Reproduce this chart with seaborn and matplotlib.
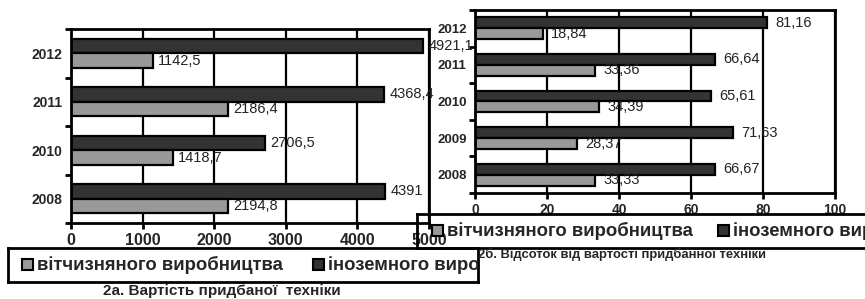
import numpy as np
import pandas as pd
import matplotlib
matplotlib.use('Agg')
import matplotlib.pyplot as plt
from matplotlib.patches import Rectangle
import seaborn as sns

# data, chart 2a (cost) and chart 2b (share, %)
years_a = ['2008', '2010', '2011', '2012']
domestic_a = [2194.8, 1418.7, 2186.4, 1142.5]
foreign_a = [4391, 2706.5, 4368.4, 4921.1]

years_b = ['2008', '2009', '2010', '2011', '2012']
domestic_b = [33.33, 28.37, 34.39, 33.36, 18.84]
foreign_b = [66.67, 71.63, 65.61, 66.64, 81.16]

lbl_dom = 'вітчизняного виробництва'
lbl_for = 'іноземного виробництва'
ticks_a = [0, 1000, 2000, 3000, 4000, 5000]
ticks_b = [0, 20, 40, 60, 80, 100]
title_a = '2а. Вартість придбаної  техніки'
title_b = '2б. Відсоток від вартості придбанної техніки'

sns.set_theme(style='white')
plt.rcParams['font.family'] = ['Liberation Sans', 'DejaVu Sans']

C_DOM = '#999999'
C_FOR = '#333333'
W, H = 865, 299


def px(x0, y0, x1, y1):
    # pixel box (top-left origin) -> figure fraction rect
    return [x0 / W, 1 - y1 / H, (x1 - x0) / W, (y1 - y0) / H]


def make_df(years, dom, forn):
    return pd.DataFrame({
        'year': years * 2,
        'value': list(dom) + list(forn),
        'type': [lbl_dom] * len(years) + [lbl_for] * len(years),
    })


def fmt(v):
    return f'{v:g}'.replace('.', ',')


def draw_bars(ax, df, years, xmax, ticks, xfs, yfs, lab_fs, pad):
    sns.barplot(data=df, y='year', x='value', hue='type', orient='h',
                order=years[::-1], hue_order=[lbl_for, lbl_dom],
                palette=[C_FOR, C_DOM], width=0.6, edgecolor='black',
                linewidth=1.6, saturation=1, legend=False, ax=ax)
    for c in ax.containers:
        ax.bar_label(c, labels=[fmt(v) for v in c.datavalues],
                     padding=pad, fontsize=lab_fs, color='#222222')
    ax.set_xlim(0, xmax)
    ax.set_ylim(len(years) - 0.5, -0.5)
    ax.set_xticks(ticks)
    ax.set_xticklabels([str(t) for t in ticks], fontweight='bold', fontsize=xfs)
    ax.set_yticklabels(years[::-1], fontweight='bold', fontsize=yfs)
    ax.set_yticks(np.arange(len(years) + 1) - 0.5, minor=True)
    ax.tick_params(axis='y', which='major', length=0, pad=6)
    ax.tick_params(axis='y', which='minor', length=4, width=2, color='black', direction='out', left=True)
    ax.tick_params(axis='x', which='major', length=4, width=2, color='black', direction='out', bottom=True, pad=3)
    ax.grid(axis='x', color='black', linewidth=1.6)
    ax.set_axisbelow(True)
    ax.set_xlabel('')
    ax.set_ylabel('')
    for s in ax.spines.values():
        s.set_visible(True)
        s.set_color('black')
        s.set_linewidth(2)


def draw_legend(box, items, fs):
    x0, y0, x1, y1 = box
    lax = fig.add_axes(px(*box))
    lax.set_xlim(0, x1 - x0)
    lax.set_ylim(y1 - y0, 0)
    lax.set_xticks([])
    lax.set_yticks([])
    lax.patch.set_alpha(0)
    for s in lax.spines.values():
        s.set_color('black')
        s.set_linewidth(2)
    cy = (y1 - y0) / 2
    for mx, color, text in items:
        lax.add_patch(Rectangle((mx, cy - 6), 11, 11, facecolor=color,
                                edgecolor='black', linewidth=1.5, clip_on=True))
        lax.text(mx + 15, cy, text, fontsize=fs, fontweight='bold',
                 va='center', ha='left', clip_on=True)


fig = plt.figure(figsize=(W / 100, H / 100), dpi=100)

ax_a = fig.add_axes(px(71, 29, 429, 223))
draw_bars(ax_a, make_df(years_a, domestic_a, foreign_a), years_a,
          5000, ticks_a, 11.5, 10, 10.5, 4)

ax_b = fig.add_axes(px(475, 10, 835, 193))
draw_bars(ax_b, make_df(years_b, domestic_b, foreign_b), years_b,
          100, ticks_b, 10, 9.5, 10.5, 6)

draw_legend((417, 214, 872, 248), [(15, C_DOM, lbl_dom), (301, C_FOR, lbl_for)], 13.3)
draw_legend((8, 248, 478, 282), [(14, C_DOM, lbl_dom), (305, C_FOR, lbl_for)], 13.3)

fig.text(222 / W, 1 - 291 / H, title_a, fontsize=11, fontweight='bold',
         ha='center', va='center')
fig.text(478 / W, 1 - 254 / H, title_b, fontsize=9.4, fontweight='bold',
         ha='left', va='center')

fig.savefig('out.png', dpi=100, facecolor='white')
